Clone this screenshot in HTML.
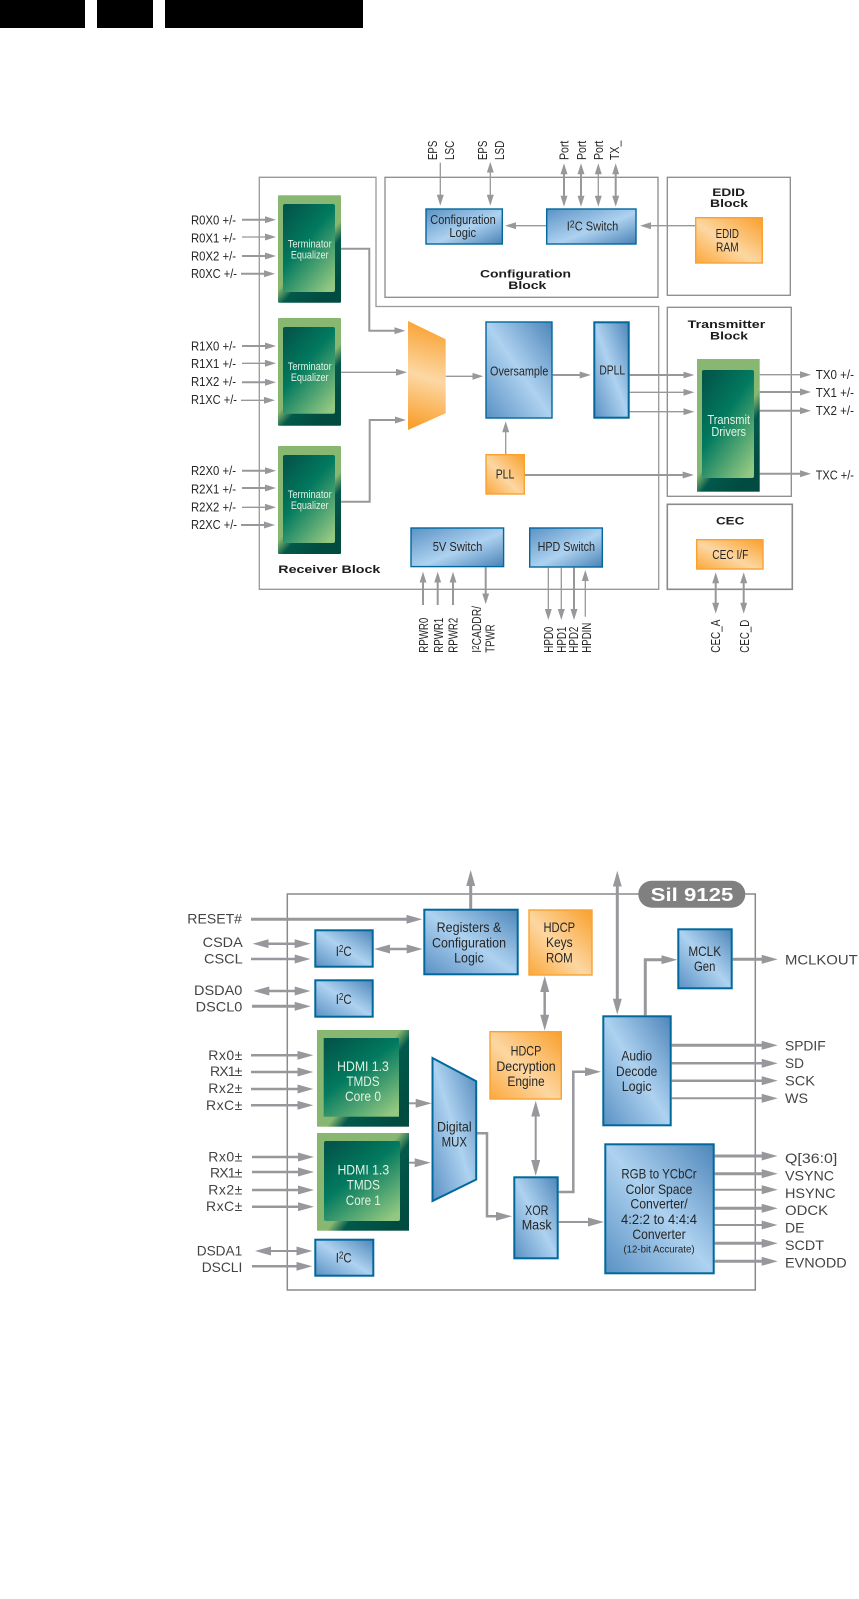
<!DOCTYPE html>
<html>
<head>
<meta charset="utf-8">
<style>
html,body{margin:0;padding:0;background:#fff;width:859px;height:1599px;overflow:hidden}
svg{display:block;font-family:"Liberation Sans",sans-serif}
.blk{fill:none;stroke:#8a8a8a;stroke-width:1.3}
.p{fill:none;stroke:#98989c;stroke-width:1.3}
.w2{stroke-width:2}.w25{stroke-width:2.5}.w3{stroke-width:3}
.e{marker-end:url(#a)}.d{marker-start:url(#a);marker-end:url(#a)}
.E{marker-end:url(#c)}.D{marker-start:url(#c);marker-end:url(#c)}
.bb{stroke:#00689c;stroke-width:1.4}.bB{stroke:#00689c;stroke-width:2}
.ob{stroke:#f9a232;stroke-width:1.4}
text{fill:#262626}
.l{font-size:13px}
.t{font-size:12.5px;text-anchor:middle}
.T{font-size:14px;text-anchor:middle}
.g{font-size:14px;fill:#444}
.r{text-anchor:end}
.b{font-size:11px;font-weight:bold;fill:#1c1c1c}
text.w{fill:#e4f2e2}
</style>
</head>
<body>
<svg width="859" height="1599" viewBox="0 0 859 1599" xmlns="http://www.w3.org/2000/svg">
<defs>
<marker id="a" viewBox="0 0 11 7" markerWidth="11" markerHeight="7" refX="1" refY="3.5" orient="auto-start-reverse" markerUnits="userSpaceOnUse"><path d="M0 0L11 3.5L0 7Z" fill="#98989c"/></marker>
<marker id="c" viewBox="0 0 16 9" markerWidth="16" markerHeight="9" refX="1" refY="4.5" orient="auto-start-reverse" markerUnits="userSpaceOnUse"><path d="M0 0L16 4.5L0 9Z" fill="#98989c"/></marker>
<linearGradient id="bt" x1="1" y1="0" x2="0" y2="1"><stop offset="0" stop-color="#4e86ba"/><stop offset=".5" stop-color="#aed2f0"/><stop offset="1" stop-color="#5a91c4"/></linearGradient>
<linearGradient id="bl" x1="0" y1="0" x2="1" y2="1"><stop offset="0" stop-color="#5a92c5"/><stop offset=".55" stop-color="#aed2f0"/><stop offset="1" stop-color="#4a82b6"/></linearGradient>
<linearGradient id="ot" x1="1" y1="0" x2="0" y2="1"><stop offset="0" stop-color="#fa9f2b"/><stop offset=".55" stop-color="#fcd7a2"/><stop offset="1" stop-color="#fba83b"/></linearGradient>
<linearGradient id="ov" x1=".55" y1="0" x2=".45" y2="1"><stop offset="0" stop-color="#f99f2c"/><stop offset=".52" stop-color="#fcd8a4"/><stop offset="1" stop-color="#fa9f2c"/></linearGradient>
<linearGradient id="go" x1="0" y1="0" x2=".65" y2="1"><stop offset="0" stop-color="#88b772"/><stop offset=".62" stop-color="#88b772"/><stop offset=".74" stop-color="#02594b"/><stop offset="1" stop-color="#014b40"/></linearGradient>
<linearGradient id="gO" x1="0" y1="0" x2="1" y2=".8"><stop offset="0" stop-color="#88b772"/><stop offset=".55" stop-color="#88b772"/><stop offset=".66" stop-color="#02594b"/><stop offset="1" stop-color="#014b40"/></linearGradient>
<linearGradient id="gi" x1=".15" y1="0" x2=".85" y2="1"><stop offset="0" stop-color="#03564a"/><stop offset=".42" stop-color="#027a5f"/><stop offset="1" stop-color="#93c882"/></linearGradient>
</defs>

<!-- top bars -->
<rect x="0" y="0" width="85" height="28" fill="#000"/>
<rect x="97" y="0" width="56" height="28" fill="#000"/>
<rect x="165" y="0" width="198" height="28" fill="#000"/>

<!-- ===== upper diagram ===== -->
<path class="blk" style="stroke:#999" d="M259.3 177.3H376V306.5H658.7V589.3H259.3Z"/>
<rect class="blk" x="385" y="177.3" width="273" height="120"/>
<rect class="blk" x="667.3" y="177.3" width="123" height="118"/>
<rect class="blk" x="667.3" y="307.3" width="124" height="189"/>
<rect class="blk" style="stroke-width:1.6" x="667.3" y="504.3" width="125" height="85"/>

<!-- arrows -->
<path class="p w2 e" d="M242 219.7H266"/>
<path class="p e" d="M242 237H266"/>
<path class="p w2 e" d="M242 256H266"/>
<path class="p w2 e" d="M241 273.7H265"/>
<path class="p w2 e" d="M242 346H266"/>
<path class="p e" d="M242 363.3H266"/>
<path class="p w2 e" d="M242 382.3H266"/>
<path class="p e" d="M241 400.3H265"/>
<path class="p w2 e" d="M242 470.7H266"/>
<path class="p w2 e" d="M242 488H266"/>
<path class="p e" d="M242 507.3H266"/>
<path class="p w2 e" d="M241 525H265"/>

<path class="p e" d="M440.3 162.7V195.7"/>
<path class="p d" d="M490.3 171.7V195.7"/>
<path class="p w2 d" d="M564 173.3V196.7"/>
<path class="p w2 d" d="M581 173.3V196.7"/>
<path class="p d" d="M598.3 173.3V196.7"/>
<path class="p w2 d" d="M615.7 173.3V196.7"/>
<path class="p e" d="M546 225.7H515"/>
<path class="p e" d="M695 225.7H650"/>

<path class="p w2 e" d="M341 248.7H369.3V330.7H395.3"/>
<path class="p e" d="M341 372.3H397"/>
<path class="p w2 e" d="M341 501.7H369.7V420H396"/>
<path class="p e" d="M445.7 376.3H473.3"/>
<path class="p w2 e" d="M552.7 375H580.7"/>
<path class="p w2 e" d="M629.7 375H684.3"/>
<path class="p e" d="M629.7 392.3H684.3"/>
<path class="p e" d="M629.7 411.7H684.3"/>
<path class="p e" d="M759.7 374.7H801"/>
<path class="p w2 e" d="M759.7 392H801"/>
<path class="p w2 e" d="M759.7 410.7H801"/>
<path class="p w2 e" d="M759.7 473.7H801"/>
<path class="p w2 e" d="M525 475H683.7"/>
<path class="p e" d="M505.7 454V431.3"/>

<path class="p w2 e" d="M423 605V581.7"/>
<path class="p w2 e" d="M437.7 605V581.7"/>
<path class="p w2 e" d="M453 605V581.7"/>
<path class="p w2 e" d="M485.7 567.3V594.3"/>
<path class="p e" d="M548.3 567.7V610"/>
<path class="p e" d="M561.3 567.7V610"/>
<path class="p w2 e" d="M574 567.7V610"/>
<path class="p e" d="M585.3 616.7V580"/>
<path class="p w2 d" d="M715.7 582.3V603.7"/>
<path class="p w2 d" d="M743.7 582.3V603.7"/>

<!-- green blocks -->
<rect x="278" y="195.3" width="63" height="107.4" rx="1" fill="url(#go)"/>
<rect x="283" y="204" width="52" height="88" rx="2" fill="url(#gi)"/>
<rect x="278" y="318" width="63" height="107.7" rx="1" fill="url(#go)"/>
<rect x="283" y="327" width="52" height="86.7" rx="2" fill="url(#gi)"/>
<rect x="278" y="446" width="63" height="108" rx="1" fill="url(#go)"/>
<rect x="283" y="455" width="52" height="88" rx="2" fill="url(#gi)"/>
<rect x="697" y="359" width="62.7" height="132.7" fill="url(#go)"/>
<rect x="702" y="370" width="52" height="108" rx="2" fill="url(#gi)"/>

<text class="t w" style="font-size:11px" x="309.7" y="247.3" textLength="44" lengthAdjust="spacingAndGlyphs">Terminator</text>
<text class="t w" style="font-size:11px" x="309.7" y="258.3" textLength="37.7" lengthAdjust="spacingAndGlyphs">Equalizer</text>
<text class="t w" style="font-size:11px" x="309.7" y="370" textLength="44" lengthAdjust="spacingAndGlyphs">Terminator</text>
<text class="t w" style="font-size:11px" x="309.7" y="381" textLength="37.7" lengthAdjust="spacingAndGlyphs">Equalizer</text>
<text class="t w" style="font-size:11px" x="309.7" y="498" textLength="44" lengthAdjust="spacingAndGlyphs">Terminator</text>
<text class="t w" style="font-size:11px" x="309.7" y="509" textLength="37.7" lengthAdjust="spacingAndGlyphs">Equalizer</text>
<text class="t w" x="728.7" y="424" textLength="42.7" lengthAdjust="spacingAndGlyphs">Transmit</text>
<text class="t w" x="728.7" y="436" textLength="34.7" lengthAdjust="spacingAndGlyphs">Drivers</text>

<!-- orange / blue boxes -->
<path d="M408 321L445.7 339.3V413.3L408 430Z" fill="url(#ov)"/>
<rect class="bb" x="426" y="209" width="76.3" height="35" fill="url(#bl)"/>
<rect class="bb" x="546.7" y="209" width="89.3" height="35" fill="url(#bl)"/>
<rect class="ob" x="695.7" y="217.7" width="66.6" height="45.3" fill="url(#ot)"/>
<rect class="bb" x="486" y="322" width="66" height="96" fill="url(#bt)"/>
<rect class="bB" x="594.3" y="322.3" width="34.4" height="95.4" fill="url(#bt)"/>
<rect class="ob" x="486" y="454.7" width="38.3" height="39.3" fill="url(#ot)"/>
<rect class="bb" x="411" y="528" width="92.6" height="38.6" fill="url(#bl)"/>
<rect class="bb" x="529.7" y="528" width="72.6" height="39" fill="url(#bl)"/>
<rect class="ob" x="696.7" y="539.7" width="66.3" height="29.3" fill="url(#ot)"/>

<text class="t" x="463" y="224" textLength="65.4" lengthAdjust="spacingAndGlyphs">Configuration</text>
<text class="t" x="462.7" y="237" textLength="26.7" lengthAdjust="spacingAndGlyphs">Logic</text>
<text class="t" x="592.5" y="230.7" textLength="51.6" lengthAdjust="spacingAndGlyphs">I<tspan font-size="10" dy="-3">2</tspan><tspan dy="3">C Switch</tspan></text>
<text class="t" x="727.3" y="238" textLength="23.3" lengthAdjust="spacingAndGlyphs">EDID</text>
<text class="t" x="727.3" y="251.3" textLength="22.7" lengthAdjust="spacingAndGlyphs">RAM</text>
<text class="t" x="519.2" y="375.7" textLength="58.3" lengthAdjust="spacingAndGlyphs">Oversample</text>
<text class="t" x="612.2" y="374.3" textLength="25.7" lengthAdjust="spacingAndGlyphs">DPLL</text>
<text class="t" x="505" y="478.7" textLength="18.6" lengthAdjust="spacingAndGlyphs">PLL</text>
<text class="t" x="457.5" y="551" textLength="49.6" lengthAdjust="spacingAndGlyphs">5V Switch</text>
<text class="t" x="566.3" y="551" textLength="57.3" lengthAdjust="spacingAndGlyphs">HPD Switch</text>
<text class="t" x="730.3" y="559" textLength="36" lengthAdjust="spacingAndGlyphs">CEC I/F</text>

<!-- block titles -->
<text class="b" x="278.3" y="573" textLength="102" lengthAdjust="spacingAndGlyphs">Receiver Block</text>
<text class="b" x="480" y="277.5" textLength="91" lengthAdjust="spacingAndGlyphs">Configuration</text>
<text class="b" x="508.3" y="289" textLength="38" lengthAdjust="spacingAndGlyphs">Block</text>
<text class="b" x="712.3" y="196" textLength="32.7" lengthAdjust="spacingAndGlyphs">EDID</text>
<text class="b" x="710" y="207" textLength="38" lengthAdjust="spacingAndGlyphs">Block</text>
<text class="b" x="687.7" y="328" textLength="77.6" lengthAdjust="spacingAndGlyphs">Transmitter</text>
<text class="b" x="710" y="339.3" textLength="38" lengthAdjust="spacingAndGlyphs">Block</text>
<text class="b" x="716" y="524.7" textLength="28.3" lengthAdjust="spacingAndGlyphs">CEC</text>

<!-- left labels -->
<text class="l" x="191" y="224.5" textLength="45" lengthAdjust="spacingAndGlyphs">R0X0 +/-</text>
<text class="l" x="191" y="242.5" textLength="45" lengthAdjust="spacingAndGlyphs">R0X1 +/-</text>
<text class="l" x="191" y="260.5" textLength="45" lengthAdjust="spacingAndGlyphs">R0X2 +/-</text>
<text class="l" x="191" y="278.2" textLength="46" lengthAdjust="spacingAndGlyphs">R0XC +/-</text>
<text class="l" x="191" y="350.5" textLength="45" lengthAdjust="spacingAndGlyphs">R1X0 +/-</text>
<text class="l" x="191" y="368.2" textLength="45" lengthAdjust="spacingAndGlyphs">R1X1 +/-</text>
<text class="l" x="191" y="386.2" textLength="45" lengthAdjust="spacingAndGlyphs">R1X2 +/-</text>
<text class="l" x="191" y="404.2" textLength="46" lengthAdjust="spacingAndGlyphs">R1XC +/-</text>
<text class="l" x="191" y="475.2" textLength="45" lengthAdjust="spacingAndGlyphs">R2X0 +/-</text>
<text class="l" x="191" y="493.5" textLength="45" lengthAdjust="spacingAndGlyphs">R2X1 +/-</text>
<text class="l" x="191" y="511.5" textLength="45" lengthAdjust="spacingAndGlyphs">R2X2 +/-</text>
<text class="l" x="191" y="529.2" textLength="46" lengthAdjust="spacingAndGlyphs">R2XC +/-</text>

<!-- right labels -->
<text class="l" x="815.7" y="379.2" textLength="38.3" lengthAdjust="spacingAndGlyphs">TX0 +/-</text>
<text class="l" x="815.7" y="397.2" textLength="38.3" lengthAdjust="spacingAndGlyphs">TX1 +/-</text>
<text class="l" x="815.7" y="415.2" textLength="38.3" lengthAdjust="spacingAndGlyphs">TX2 +/-</text>
<text class="l" x="815.7" y="479.5" textLength="38.3" lengthAdjust="spacingAndGlyphs">TXC +/-</text>

<!-- rotated labels top -->
<text class="l" transform="translate(436.8,160) rotate(-90)" textLength="19.3" lengthAdjust="spacingAndGlyphs">EPS</text>
<text class="l" transform="translate(453.8,160) rotate(-90)" textLength="19.3" lengthAdjust="spacingAndGlyphs">LSC</text>
<text class="l" transform="translate(487.2,160) rotate(-90)" textLength="19.3" lengthAdjust="spacingAndGlyphs">EPS</text>
<text class="l" transform="translate(503.8,160) rotate(-90)" textLength="19.3" lengthAdjust="spacingAndGlyphs">LSD</text>
<text class="l" transform="translate(568.5,160) rotate(-90)" textLength="19.3" lengthAdjust="spacingAndGlyphs">Port</text>
<text class="l" transform="translate(585.8,160) rotate(-90)" textLength="19.3" lengthAdjust="spacingAndGlyphs">Port</text>
<text class="l" transform="translate(603.2,160) rotate(-90)" textLength="19.3" lengthAdjust="spacingAndGlyphs">Port</text>
<text class="l" transform="translate(619.2,160) rotate(-90)" textLength="19.3" lengthAdjust="spacingAndGlyphs">TX_</text>

<!-- rotated labels bottom -->
<text class="l" transform="translate(428.2,652.7) rotate(-90)" textLength="35" lengthAdjust="spacingAndGlyphs">RPWR0</text>
<text class="l" transform="translate(442.8,652.7) rotate(-90)" textLength="35" lengthAdjust="spacingAndGlyphs">RPWR1</text>
<text class="l" transform="translate(457.5,652.7) rotate(-90)" textLength="35" lengthAdjust="spacingAndGlyphs">RPWR2</text>
<text class="l" transform="translate(481.2,652.7) rotate(-90)" textLength="46.7" lengthAdjust="spacingAndGlyphs">I<tspan font-size="10" dy="-2">2</tspan><tspan dy="2">CADDR/</tspan></text>
<text class="l" transform="translate(494.5,652.7) rotate(-90)" textLength="28.3" lengthAdjust="spacingAndGlyphs">TPWR</text>
<text class="l" transform="translate(553.2,652.7) rotate(-90)" textLength="26" lengthAdjust="spacingAndGlyphs">HPD0</text>
<text class="l" transform="translate(565.8,652.7) rotate(-90)" textLength="26" lengthAdjust="spacingAndGlyphs">HPD1</text>
<text class="l" transform="translate(578.2,652.7) rotate(-90)" textLength="26" lengthAdjust="spacingAndGlyphs">HPD2</text>
<text class="l" transform="translate(590.8,652.7) rotate(-90)" textLength="30" lengthAdjust="spacingAndGlyphs">HPDIN</text>
<text class="l" transform="translate(720.2,652.7) rotate(-90)" textLength="33" lengthAdjust="spacingAndGlyphs">CEC_A</text>
<text class="l" transform="translate(748.8,652.7) rotate(-90)" textLength="33" lengthAdjust="spacingAndGlyphs">CEC_D</text>

<!-- ===== lower diagram ===== -->
<rect x="287.3" y="894" width="468" height="396" fill="none" stroke="#8a8a8a" stroke-width="1.5"/>

<path class="p w3 E" d="M251 919.3H407.3"/>
<path class="p w25 D" d="M267.7 943.7H295.7"/>
<path class="p w25 E" d="M251 959H295.7"/>
<path class="p w25 D" d="M268.3 991H295.7"/>
<path class="p w3 E" d="M252 1006.3H295.7"/>
<path class="p w25 E" d="M251 1055.3H298.3"/>
<path class="p w25 E" d="M251 1072H298.3"/>
<path class="p w25 E" d="M251 1089H298.3"/>
<path class="p w25 E" d="M251 1105.3H298.3"/>
<path class="p w25 E" d="M252 1157H299"/>
<path class="p w25 E" d="M252 1172H299"/>
<path class="p w25 E" d="M252 1190H299"/>
<path class="p w25 E" d="M252 1206.7H299"/>
<path class="p w2 D" d="M270 1251H297.3"/>
<path class="p w25 E" d="M252 1266.3H297.3"/>

<path class="p w3 E" d="M470.7 908.7V885"/>
<path class="p w25 D" d="M389 949H407.7"/>
<path class="p w25 D" d="M544.7 991V1015.7"/>
<path class="p w3 D" d="M617.3 885.7V999.7"/>
<path class="p w3 E" d="M645.3 1015.3V959.7H662.3"/>
<path class="p w3 E" d="M732.7 959.3H762.7"/>
<path class="p w3 E" d="M671.7 1045.3H762.7"/>
<path class="p w25 E" d="M671.7 1063.3H762.7"/>
<path class="p w25 E" d="M671.7 1080.7H762.7"/>
<path class="p w2 E" d="M671.7 1098.3H762.7"/>
<path class="p w2 E" d="M409 1103.3H416.7"/>
<path class="p w2 E" d="M409 1162.7H415.7"/>
<path class="p w25 E" d="M477 1133.3H487V1216.3H497"/>
<path class="p w25 E" d="M558.7 1192H573.3V1071.7H586"/>
<path class="p w2 E" d="M558.7 1222H589"/>
<path class="p w2 D" d="M535.7 1115.7V1161"/>
<path class="p w3 E" d="M714.7 1156H762.7"/>
<path class="p w3 E" d="M714.7 1173.7H762.7"/>
<path class="p w2 E" d="M714.7 1189.7H762.7"/>
<path class="p w3 E" d="M714.7 1208.3H762.7"/>
<path class="p w2 E" d="M714.7 1225H762.7"/>
<path class="p w3 E" d="M714.7 1243.3H762.7"/>
<path class="p w3 E" d="M714.7 1261.3H762.7"/>

<!-- pill -->
<rect x="638.3" y="880.7" width="107" height="27" rx="13.5" fill="#808080"/>
<text x="650.7" y="901" font-size="18" font-weight="bold" style="fill:#fff" textLength="82.6" lengthAdjust="spacingAndGlyphs">Sil 9125</text>

<!-- green cores -->
<rect x="317" y="1030" width="92" height="96.7" fill="url(#gO)"/>
<rect x="323.7" y="1038" width="75.3" height="78.7" fill="url(#gi)"/>
<rect x="317" y="1133" width="92" height="97.7" fill="url(#gO)"/>
<rect x="324" y="1141" width="76" height="80" rx="2" fill="url(#gi)"/>

<!-- boxes -->
<rect class="bB" x="424.3" y="909.7" width="93.4" height="64.6" fill="url(#bt)"/>
<rect class="ob" x="529" y="910" width="63" height="65" fill="url(#ot)"/>
<rect class="bB" x="315.3" y="930.3" width="57.4" height="36.4" fill="url(#bt)"/>
<rect class="bB" x="315.3" y="980.3" width="57.4" height="36.4" fill="url(#bt)"/>
<rect class="bB" x="315.3" y="1239.7" width="58" height="36" fill="url(#bt)"/>
<rect class="bB" x="678.3" y="929.3" width="53.4" height="59" fill="url(#bt)"/>
<rect class="bB" x="603.3" y="1016.3" width="67.4" height="109" fill="url(#bt)"/>
<rect class="ob" x="490" y="1031.7" width="71.3" height="67.3" fill="url(#ot)"/>
<path class="bB" d="M432.5 1058L476.2 1081.2V1179.5L432.5 1201Z" fill="url(#bt)"/>
<rect class="bB" x="514.3" y="1177.3" width="43.4" height="81" fill="url(#bt)"/>
<rect class="bB" x="605.3" y="1144.3" width="108.4" height="129" fill="url(#bt)"/>

<!-- box text -->
<text class="T" x="469" y="932" textLength="64.7" lengthAdjust="spacingAndGlyphs">Registers &amp;</text>
<text class="T" x="469" y="947.3" textLength="74" lengthAdjust="spacingAndGlyphs">Configuration</text>
<text class="T" x="469" y="962.3" textLength="29.7" lengthAdjust="spacingAndGlyphs">Logic</text>
<text class="T" x="559.3" y="932" textLength="31.7" lengthAdjust="spacingAndGlyphs">HDCP</text>
<text class="T" x="559.3" y="947" textLength="26.7" lengthAdjust="spacingAndGlyphs">Keys</text>
<text class="T" x="559.3" y="962.3" textLength="26.7" lengthAdjust="spacingAndGlyphs">ROM</text>
<text class="T" x="343.7" y="956" textLength="16" lengthAdjust="spacingAndGlyphs">I<tspan font-size="10" dy="-4">2</tspan><tspan dy="4">C</tspan></text>
<text class="T" x="343.7" y="1004" textLength="16" lengthAdjust="spacingAndGlyphs">I<tspan font-size="10" dy="-4">2</tspan><tspan dy="4">C</tspan></text>
<text class="T" x="343.7" y="1262.7" textLength="16" lengthAdjust="spacingAndGlyphs">I<tspan font-size="10" dy="-4">2</tspan><tspan dy="4">C</tspan></text>
<text class="T" x="704.7" y="956" textLength="32.7" lengthAdjust="spacingAndGlyphs">MCLK</text>
<text class="T" x="704.7" y="971" textLength="21.3" lengthAdjust="spacingAndGlyphs">Gen</text>
<text class="T" x="526" y="1055.7" textLength="30.7" lengthAdjust="spacingAndGlyphs">HDCP</text>
<text class="T" x="526" y="1071" textLength="59.3" lengthAdjust="spacingAndGlyphs">Decryption</text>
<text class="T" x="526" y="1086" textLength="37.3" lengthAdjust="spacingAndGlyphs">Engine</text>
<text class="T" x="636.7" y="1060.7" textLength="30.7" lengthAdjust="spacingAndGlyphs">Audio</text>
<text class="T" x="636.7" y="1076" textLength="41.3" lengthAdjust="spacingAndGlyphs">Decode</text>
<text class="T" x="636.7" y="1091" textLength="30" lengthAdjust="spacingAndGlyphs">Logic</text>
<text class="T" x="454.3" y="1131.7" textLength="34.7" lengthAdjust="spacingAndGlyphs">Digital</text>
<text class="T" x="454.3" y="1146.7" textLength="25.3" lengthAdjust="spacingAndGlyphs">MUX</text>
<text class="T w" x="363" y="1071" textLength="51.7" lengthAdjust="spacingAndGlyphs">HDMI 1.3</text>
<text class="T w" x="363" y="1086" textLength="33.3" lengthAdjust="spacingAndGlyphs">TMDS</text>
<text class="T w" x="363" y="1101" textLength="36" lengthAdjust="spacingAndGlyphs">Core 0</text>
<text class="T w" x="363.3" y="1174.3" textLength="51.7" lengthAdjust="spacingAndGlyphs">HDMI 1.3</text>
<text class="T w" x="363.3" y="1189.7" textLength="33.3" lengthAdjust="spacingAndGlyphs">TMDS</text>
<text class="T w" x="363.3" y="1205" textLength="35" lengthAdjust="spacingAndGlyphs">Core 1</text>
<text class="T" x="536.7" y="1215" textLength="23.3" lengthAdjust="spacingAndGlyphs">XOR</text>
<text class="T" x="536.7" y="1229.7" textLength="30" lengthAdjust="spacingAndGlyphs">Mask</text>
<text class="T" x="659" y="1178.3" textLength="75.3" lengthAdjust="spacingAndGlyphs">RGB to YCbCr</text>
<text class="T" x="659" y="1194" textLength="66.7" lengthAdjust="spacingAndGlyphs">Color Space</text>
<text class="T" x="659" y="1208.7" textLength="57.3" lengthAdjust="spacingAndGlyphs">Converter/</text>
<text class="T" x="659" y="1224" textLength="76" lengthAdjust="spacingAndGlyphs">4:2:2 to 4:4:4</text>
<text class="T" x="659" y="1239" textLength="53.3" lengthAdjust="spacingAndGlyphs">Converter</text>
<text class="T" style="font-size:10px" x="659" y="1252.3" textLength="71.3" lengthAdjust="spacingAndGlyphs">(12-bit Accurate)</text>

<!-- lower left labels -->
<text class="g r" x="242" y="923.5" textLength="54.7" lengthAdjust="spacingAndGlyphs">RESET#</text>
<text class="g r" x="242.7" y="947" textLength="40" lengthAdjust="spacingAndGlyphs">CSDA</text>
<text class="g r" x="242.7" y="963.5" textLength="38.7" lengthAdjust="spacingAndGlyphs">CSCL</text>
<text class="g r" x="242.3" y="995" textLength="48.3" lengthAdjust="spacingAndGlyphs">DSDA0</text>
<text class="g r" x="242.3" y="1011.5" textLength="46.6" lengthAdjust="spacingAndGlyphs">DSCL0</text>
<text class="g r" x="242.3" y="1060" textLength="34">Rx0±</text>
<text class="g r" x="242.3" y="1076" textLength="32.3">RX1±</text>
<text class="g r" x="242.3" y="1093" textLength="34">Rx2±</text>
<text class="g r" x="242.3" y="1110" textLength="36.3">RxC±</text>
<text class="g r" x="242.3" y="1161.5" textLength="34">Rx0±</text>
<text class="g r" x="242.3" y="1177.5" textLength="32.3">RX1±</text>
<text class="g r" x="242.3" y="1194.5" textLength="34">Rx2±</text>
<text class="g r" x="242.3" y="1211" textLength="36.3">RxC±</text>
<text class="g r" x="242.3" y="1255.7" textLength="45.6" lengthAdjust="spacingAndGlyphs">DSDA1</text>
<text class="g r" x="242.3" y="1272" textLength="40.6" lengthAdjust="spacingAndGlyphs">DSCLI</text>

<!-- lower right labels -->
<text class="g" x="785" y="964.5" textLength="72.7" lengthAdjust="spacingAndGlyphs">MCLKOUT</text>
<text class="g" x="785" y="1050.7" textLength="40.7" lengthAdjust="spacingAndGlyphs">SPDIF</text>
<text class="g" x="785" y="1068" textLength="19" lengthAdjust="spacingAndGlyphs">SD</text>
<text class="g" x="785" y="1085.7" textLength="30" lengthAdjust="spacingAndGlyphs">SCK</text>
<text class="g" x="785" y="1103" textLength="23" lengthAdjust="spacingAndGlyphs">WS</text>
<text class="g" x="785" y="1163" textLength="52.3" lengthAdjust="spacingAndGlyphs">Q[36:0]</text>
<text class="g" x="785" y="1180.5" textLength="49" lengthAdjust="spacingAndGlyphs">VSYNC</text>
<text class="g" x="785" y="1198" textLength="50.5" lengthAdjust="spacingAndGlyphs">HSYNC</text>
<text class="g" x="785" y="1215" textLength="43" lengthAdjust="spacingAndGlyphs">ODCK</text>
<text class="g" x="785" y="1232.5" textLength="19.5" lengthAdjust="spacingAndGlyphs">DE</text>
<text class="g" x="785" y="1250" textLength="39" lengthAdjust="spacingAndGlyphs">SCDT</text>
<text class="g" x="785" y="1267.5" textLength="61.7" lengthAdjust="spacingAndGlyphs">EVNODD</text>
</svg>
</body>
</html>
